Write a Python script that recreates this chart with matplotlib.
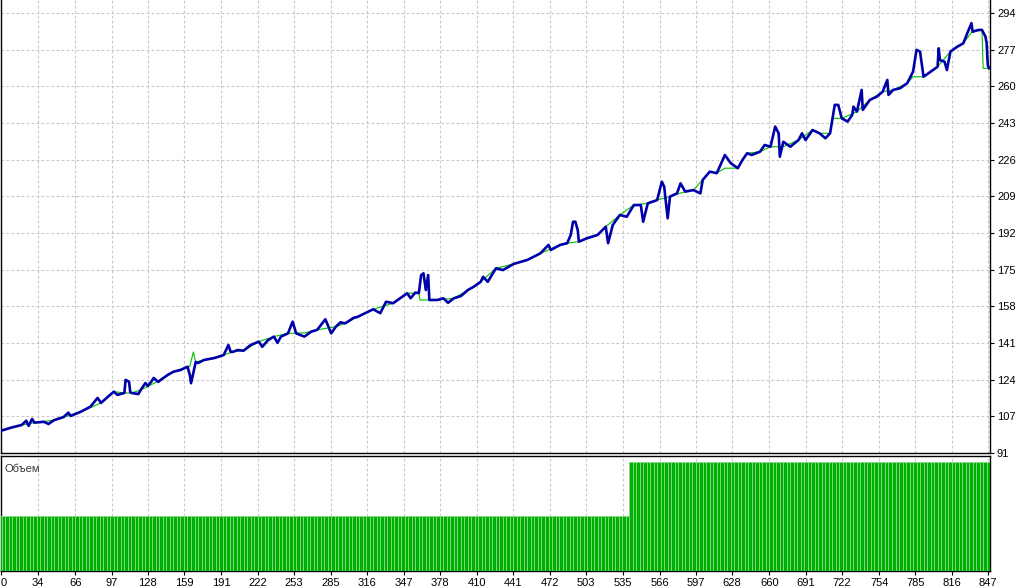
import numpy as np
import matplotlib.pyplot as plt

plt.rcParams['font.family'] = ['Liberation Sans', 'DejaVu Sans']

# equity curve (blue): trade number / value
eq_trade = [2, 11, 20, 24, 26, 29, 31, 39, 43, 48,
            56, 60, 62, 71, 79, 85, 88, 94, 99, 102,
            108, 109, 112, 113, 114, 120, 122, 126, 128, 131,
            133, 137, 139, 145, 150, 156, 162, 164, 165, 167,
            169, 171, 176, 185, 193, 197, 199, 201, 205, 210,
            216, 223, 226, 231, 236, 239, 242, 248, 252, 255,
            262, 268, 273, 280, 285, 289, 293, 297, 304, 308,
            314, 321, 327, 332, 338, 344, 350, 353, 357, 360,
            362, 364, 366, 368, 369, 376, 381, 385, 390, 396,
            402, 407, 413, 415, 419, 426, 432, 441, 453, 464,
            471, 473, 481, 487, 490, 492, 494, 496, 497, 504,
            513, 520, 522, 526, 532, 538, 544, 550, 552, 556,
            564, 568, 570, 573, 575, 581, 584, 588, 595, 601,
            603, 609, 615, 622, 627, 633, 637, 641, 645, 652,
            656, 661, 665, 668, 669, 672, 678, 685, 688, 691,
            697, 703, 708, 712, 716, 719, 722, 727, 731, 732,
            735, 739, 740, 746, 752, 757, 761, 762, 766, 772,
            778, 783, 786, 789, 792, 798, 804, 805, 806, 810,
            812, 815, 821, 826, 830, 833, 834, 839, 842, 845,
            846, 847, 848]
eq_value = [101.2, 102.7, 103.9, 105.9, 103.5, 106.7, 105.0, 105.4, 104.4, 106.2,
            107.6, 109.6, 108.1, 110.1, 112.4, 116.4, 114.1, 117.0, 119.3, 117.8,
            118.7, 124.7, 123.9, 119.1, 118.7, 118.2, 120.1, 123.3, 121.9, 123.9,
            125.6, 123.8, 124.7, 127.0, 128.5, 129.3, 130.8, 127.0, 123.2, 127.9,
            133.0, 132.5, 133.9, 134.8, 136.2, 140.8, 137.6, 137.7, 138.5, 138.2,
            140.8, 142.4, 140.0, 143.1, 144.7, 141.8, 144.7, 146.2, 151.6, 146.2,
            144.7, 147.0, 147.8, 152.7, 146.2, 149.3, 151.3, 150.8, 153.3, 153.9,
            155.5, 157.3, 155.5, 160.8, 160.1, 162.4, 164.7, 162.4, 165.0, 164.8,
            173.1, 173.9, 166.2, 173.1, 161.6, 161.6, 162.4, 160.3, 162.4, 163.4,
            166.2, 167.7, 170.0, 172.3, 170.0, 176.2, 175.4, 178.2, 180.1, 183.1,
            187.0, 184.7, 187.0, 187.8, 191.6, 197.7, 197.7, 193.9, 188.5, 190.1,
            191.6, 195.4, 187.8, 196.2, 200.8, 200.0, 205.4, 205.4, 197.7, 206.2,
            207.7, 216.2, 213.9, 199.3, 209.3, 210.8, 215.4, 211.6, 212.3, 210.8,
            217.0, 220.8, 220.1, 228.5, 224.7, 222.4, 226.2, 229.3, 228.5, 230.0,
            233.1, 232.3, 241.6, 238.5, 227.7, 234.6, 232.3, 235.4, 238.5, 235.4,
            240.0, 238.5, 236.2, 238.5, 251.6, 251.6, 245.4, 243.9, 247.0, 250.8,
            248.5, 258.5, 249.3, 253.9, 255.4, 257.7, 263.1, 256.2, 258.5, 259.3,
            261.6, 266.9, 277.0, 276.2, 264.6, 266.9, 269.2, 277.7, 272.3, 271.5,
            267.7, 276.2, 278.5, 280.0, 285.4, 289.3, 285.4, 286.2, 286.2, 283.1,
            280.0, 270.0, 268.5]

# balance curve (green)
bal_trade = [2, 20, 31, 48, 71, 88, 99, 108, 114, 122,
             139, 150, 162, 164, 167, 169, 176, 193, 201, 210,
             223, 236, 248, 262, 273, 289, 297, 308, 321, 338,
             350, 360, 361, 376, 390, 402, 413, 426, 441, 453,
             464, 481, 487, 497, 513, 520, 532, 544, 556, 564,
             575, 588, 595, 609, 615, 622, 633, 641, 652, 661,
             672, 685, 697, 703, 712, 714, 722, 735, 746, 757,
             766, 778, 783, 792, 804, 815, 826, 833, 842, 843,
             848]
bal_value = [101.2, 103.9, 105.0, 106.2, 110.1, 114.1, 119.3, 118.7, 118.7, 120.1,
             124.7, 128.5, 130.8, 131.0, 137.6, 133.0, 133.9, 136.2, 137.7, 138.2,
             142.4, 144.7, 146.2, 146.4, 147.8, 149.3, 150.8, 153.9, 157.3, 160.1,
             164.7, 164.8, 161.6, 161.6, 162.4, 166.2, 170.0, 176.2, 178.2, 180.1,
             183.1, 187.0, 187.8, 188.5, 191.6, 195.4, 200.8, 205.4, 206.2, 207.7,
             209.3, 211.6, 212.3, 220.8, 220.1, 222.4, 222.4, 229.3, 230.0, 232.3,
             232.3, 235.4, 240.0, 238.5, 238.5, 245.4, 245.4, 248.5, 253.9, 257.7,
             258.5, 261.6, 264.6, 264.6, 269.2, 276.2, 280.0, 285.0, 286.2, 268.5,
             268.5]

# lot size per trade: first block 0.1, then 0.2
lot_sizes = [0.1, 0.2]
lot_trades = [540, 310]

xtick_vals = [2.4, 34, 66, 97, 128, 159, 191, 222, 253, 285, 316, 347, 378, 410,
              441, 472, 503, 535, 566, 597, 628, 660, 691, 722, 754, 785, 816, 847]
xtick_labels = ['0', '34', '66', '97', '128', '159', '191', '222', '253', '285',
                '316', '347', '378', '410', '441', '472', '503', '535', '566',
                '597', '628', '660', '691', '722', '754', '785', '816', '847']
ytick_labels = ['91', '107', '124', '141', '158', '175', '192', '209', '226',
                '243', '260', '277', '294']

grid_kw = dict(color='#c8c8c8', linestyle=(0, (2.5, 2)), linewidth=0.8)

fig = plt.figure(figsize=(10.24, 5.86), dpi=100)
ax = fig.add_axes([0.001, 133 / 586, 989 / 1024, 453 / 586])
axv = fig.add_axes([0.001, 15 / 586, 989 / 1024, 115 / 586], sharex=ax)

# main panel
ax.plot(bal_trade, bal_value, color='#00c000', linewidth=0.8, zorder=3)
ax.plot(eq_trade, eq_value, color='#0000aa', linewidth=1.9, zorder=4)
ax.set_xlim(2.4, 848.9)
ax.set_ylim(91, 300)
ax.set_yticks(np.linspace(91, 294, 13))
ax.set_yticklabels(ytick_labels)
ax.yaxis.tick_right()
ax.tick_params(axis='y', length=3, width=0.8, pad=2, labelsize=8, colors='black')
ax.tick_params(axis='x', length=0, labelbottom=False)
ax.grid(True, **grid_kw)
ax.spines['top'].set_visible(False)
for s in ['left', 'right', 'bottom']:
    ax.spines[s].set_linewidth(1.0)

# volume panel
trades = np.arange(sum(lot_trades))
volume = np.repeat(lot_sizes, lot_trades)
axv.bar(trades[::3], volume[::3], width=3, align='edge', color='#00b000',
        edgecolor='#8ad88a', linewidth=0.6, zorder=3)
axv.set_ylim(0, 0.211)
axv.set_yticks([])
axv.set_xticks(xtick_vals)
axv.set_xticklabels(xtick_labels)
axv.tick_params(axis='x', length=3, width=0.8, pad=2, labelsize=8)
axv.get_xticklabels()[0].set_horizontalalignment('left')
axv.grid(True, axis='x', **grid_kw)
for s in axv.spines.values():
    s.set_linewidth(1.0)
axv.text(0.004, 0.93, 'Объем', transform=axv.transAxes, fontsize=8,
         color='#333333', va='top', ha='left')

fig.savefig('out.png', dpi=100)
